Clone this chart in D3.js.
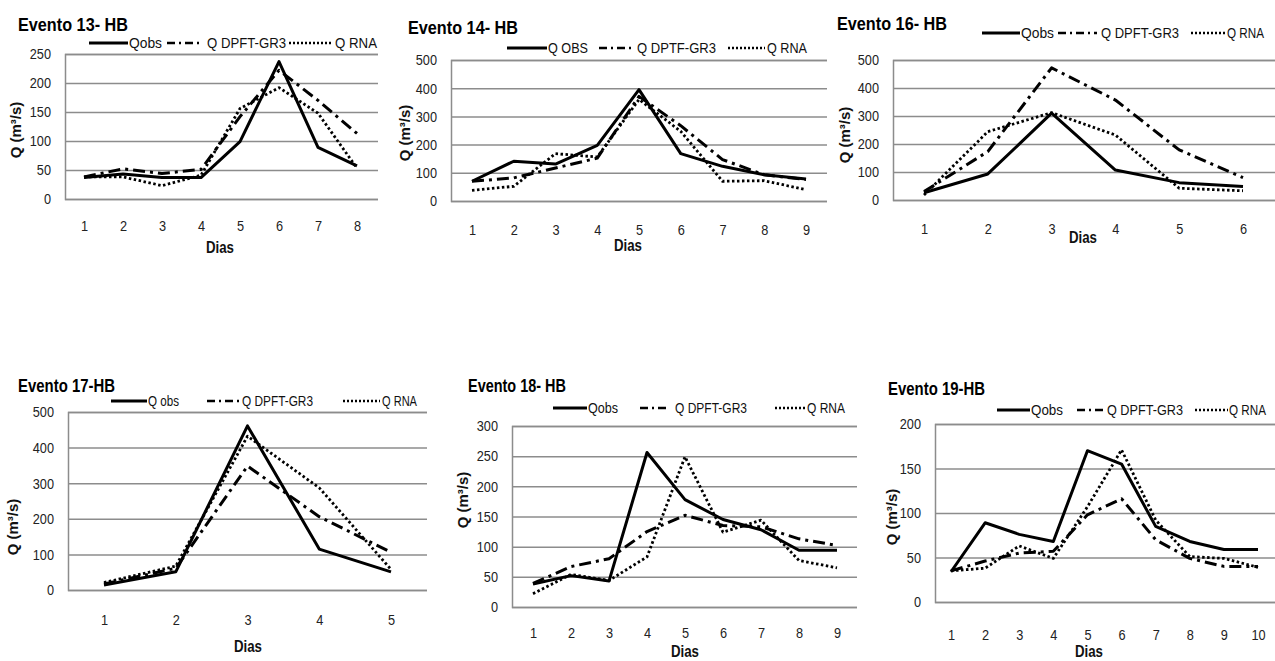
<!DOCTYPE html>
<html>
<head>
<meta charset="utf-8">
<script src="https://cdn.jsdelivr.net/npm/d3@7"></script>
<style>
body { margin: 0; background: #fff; }
text { font-family: "Liberation Sans", Arial, sans-serif; }
</style>
</head>
<body>
<div id="chart"></div>
<script>
// ---- data (Q in m3/s per day) ----
var ev13Obs  = [37, 43, 37, 37, 99, 237, 89, 57];
var ev13Dpft = [38, 52, 44, 51, 142, 222, 170, 113];
var ev13Rna  = [38, 38, 23, 41, 156, 192, 148, 53];

var ev14Obs  = [70, 141, 131, 197, 395, 168, 123, 93, 78];
var ev14Dpft = [70, 82, 117, 152, 371, 267, 147, 93, 76];
var ev14Rna  = [38, 52, 168, 156, 360, 247, 70, 72, 40];

var ev16Obs  = [26, 93, 310, 107, 62, 48];
var ev16Dpft = [30, 173, 472, 357, 179, 80];
var ev16Rna  = [18, 244, 312, 232, 42, 33];

var ev17Obs  = [14, 51, 461, 115, 51];
var ev17Dpft = [17, 61, 348, 206, 106];
var ev17Rna  = [21, 67, 432, 287, 58];

var ev18Obs  = [38, 52, 43, 256, 178, 145, 128, 94, 94];
var ev18Dpft = [39, 67, 80, 125, 152, 135, 133, 113, 102];
var ev18Rna  = [22, 54, 44, 83, 249, 124, 144, 77, 65];

var ev19Obs  = [34, 89, 76, 68, 170, 155, 85, 68, 59, 59];
var ev19Dpft = [35, 46, 55, 57, 98, 116, 70, 49, 40, 40];
var ev19Rna  = [35, 38, 63, 49, 107, 171, 92, 51, 49, 39];

var titles = ["Evento 13- HB", "Evento 14- HB", "Evento 16- HB", "Evento 17-HB", "Evento 18- HB", "Evento 19-HB"];
var legend13 = ["Qobs", "Q DPFT-GR3", "Q RNA"];
var legend14 = ["Q OBS", "Q DPTF-GR3", "Q RNA"];
var legend17 = ["Q obs", "Q DPFT-GR3", "Q RNA"];
var yMaxes = [250, 500, 500, 500, 300, 200];
var yStepz = [50, 100, 100, 100, 50, 50];
var xTitle = "Dias";
var yTitle = "Q (m³/s)";

// ---- layout (pixels) ----
// leg entries: [line x1, line x2, text x, text width]
var panels = [
  {series: [ev13Obs, ev13Dpft, ev13Rna], legend: legend13, L: 65, R: 378, T: 54, B: 199, x0: 84, x1: 357,
   tx: 18, ty: 24, tw: 110, leg: [[89, 128, 129, 33], [167, 203, 207, 79], [289, 333, 335, 42]], ly: 43, lf: 15,
   dias: [220, 247], yl: [16, 130], tickY: 226},
  {series: [ev14Obs, ev14Dpft, ev14Rna], legend: legend14, L: 451, R: 827, T: 60, B: 201, x0: 472, x1: 806,
   tx: 408, ty: 27, tw: 110, leg: [[507, 547, 548, 40], [599, 633, 637, 79], [728, 765, 767, 40]], ly: 48, lf: 15,
   dias: [628, 245], yl: [405, 133], tickY: 230},
  {series: [ev16Obs, ev16Dpft, ev16Rna], legend: legend13, L: 893, R: 1275, T: 60, B: 200, x0: 924, x1: 1243,
   tx: 837, ty: 23, tw: 110, leg: [[982, 1020, 1021, 33], [1058, 1097, 1101, 78], [1191, 1226, 1227, 37]], ly: 33, lf: 14,
   dias: [1083, 237], yl: [845, 135], tickY: 229},
  {series: [ev17Obs, ev17Dpft, ev17Rna], legend: legend17, L: 68, R: 427, T: 412, B: 590, x0: 104, x1: 391,
   tx: 18, ty: 385, tw: 97, leg: [[111, 147, 148, 31], [207, 240, 242, 71], [343, 380, 382, 35]], ly: 401, lf: 15,
   dias: [248, 646], yl: [13, 527], tickY: 620},
  {series: [ev18Obs, ev18Dpft, ev18Rna], legend: legend13, L: 512, R: 857, T: 426, B: 607, x0: 533, x1: 837,
   tx: 468, ty: 385, tw: 98, leg: [[553, 587, 588, 30], [640, 670, 675, 72], [775, 805, 807, 38]], ly: 408, lf: 15,
   dias: [685, 651], yl: [463, 500], tickY: 633},
  {series: [ev19Obs, ev19Dpft, ev19Rna], legend: legend13, L: 935, R: 1275, T: 424, B: 602, x0: 951, x1: 1258,
   tx: 888, ty: 388, tw: 97, leg: [[997, 1030, 1031, 32], [1077, 1106, 1107, 76], [1195, 1228, 1229, 37]], ly: 410, lf: 14,
   dias: [1089, 651], yl: [892, 517], tickY: 635}
];

var styles = [
  {w: 3, dash: null},
  {w: 3, dash: "12,5,3,5"},
  {w: 2.8, dash: "2.5,2.5"}
];

// squeeze Liberation Sans into an Arial-Narrow-like width
function narrow(sel, f) {
  sel.each(function() {
    var len = this.getComputedTextLength();
    d3.select(this).attr("textLength", len * f).attr("lengthAdjust", "spacingAndGlyphs");
  });
}

var svg = d3.select("#chart").append("svg")
  .attr("width", 1275)
  .attr("height", 661);

panels.forEach(function(p, i) {
  var n = p.series[0].length;
  var days = d3.range(1, n + 1);

  var xScale = d3.scaleLinear().domain([1, n]).range([p.x0, p.x1]);
  var yScale = d3.scaleLinear().domain([0, yMaxes[i]]).range([p.B, p.T]);

  var g = svg.append("g");

  // gridlines + y tick labels
  var yAxis = d3.axisLeft(yScale)
    .tickValues(d3.range(0, yMaxes[i] + 1, yStepz[i]))
    .tickSize(-(p.R - p.L))
    .tickPadding(14)
    .tickFormat(d3.format("d"));

  var ya = g.append("g").attr("transform", `translate(${p.L},0)`).call(yAxis);
  ya.select(".domain").attr("stroke", "#8c8c8c").attr("stroke-width", 1.5);
  ya.selectAll(".tick line").attr("stroke", "#8c8c8c").attr("stroke-width", 1.5);
  ya.selectAll(".tick text").attr("font-size", "15px").attr("fill", "#222")
    .style("font-family", "'Liberation Sans', Arial, sans-serif").call(narrow, 0.85);

  // x tick labels
  var xAxis = d3.axisBottom(xScale).tickValues(days).tickSize(0).tickFormat(d3.format("d"));
  var xa = g.append("g").attr("transform", `translate(0,${p.tickY})`).call(xAxis);
  xa.select(".domain").remove();
  xa.selectAll(".tick text").attr("y", 0).attr("dy", "0.35em").attr("font-size", "15px").attr("fill", "#222")
    .style("font-family", "'Liberation Sans', Arial, sans-serif").call(narrow, 0.85);

  // lines
  var line = d3.line().x((d, j) => xScale(j + 1)).y(d => yScale(d));
  p.series.forEach(function(s, k) {
    g.append("path")
      .datum(s)
      .attr("d", line)
      .attr("fill", "none")
      .attr("stroke", "#000")
      .attr("stroke-width", styles[k].w)
      .attr("stroke-dasharray", styles[k].dash)
      .attr("stroke-linejoin", "round");
  });

  // legend
  p.leg.forEach(function(l, k) {
    g.append("line")
      .attr("x1", l[0]).attr("x2", l[1])
      .attr("y1", p.ly).attr("y2", p.ly)
      .attr("stroke", "#000")
      .attr("stroke-width", k == 0 ? 3 : 2.5)
      .attr("stroke-dasharray", k == 1 ? "8,4,2,4" : (k == 2 ? "2,2" : null));
    g.append("text")
      .attr("x", l[2]).attr("y", p.ly)
      .attr("dy", "0.35em")
      .attr("font-size", p.lf + "px")
      .attr("fill", "#111")
      .attr("textLength", l[3])
      .attr("lengthAdjust", "spacingAndGlyphs")
      .text(p.legend[k]);
  });

  // title
  g.append("text")
    .attr("x", p.tx).attr("y", p.ty)
    .attr("dy", "0.35em")
    .attr("font-size", "19px")
    .attr("font-weight", "bold")
    .attr("fill", "#000")
    .attr("textLength", p.tw)
    .attr("lengthAdjust", "spacingAndGlyphs")
    .text(titles[i]);

  // axis titles
  g.append("text")
    .attr("x", p.dias[0]).attr("y", p.dias[1])
    .attr("text-anchor", "middle")
    .attr("dy", "0.35em")
    .attr("font-size", "17px")
    .attr("font-weight", "bold")
    .attr("fill", "#111")
    .text(xTitle)
    .call(narrow, 0.78);

  g.append("text")
    .attr("transform", `translate(${p.yl[0]},${p.yl[1]}) rotate(-90)`)
    .attr("text-anchor", "middle")
    .attr("dy", "0.35em")
    .attr("font-size", "15px")
    .attr("font-weight", "bold")
    .attr("fill", "#111")
    .text(yTitle);
});
</script>
</body>
</html>
